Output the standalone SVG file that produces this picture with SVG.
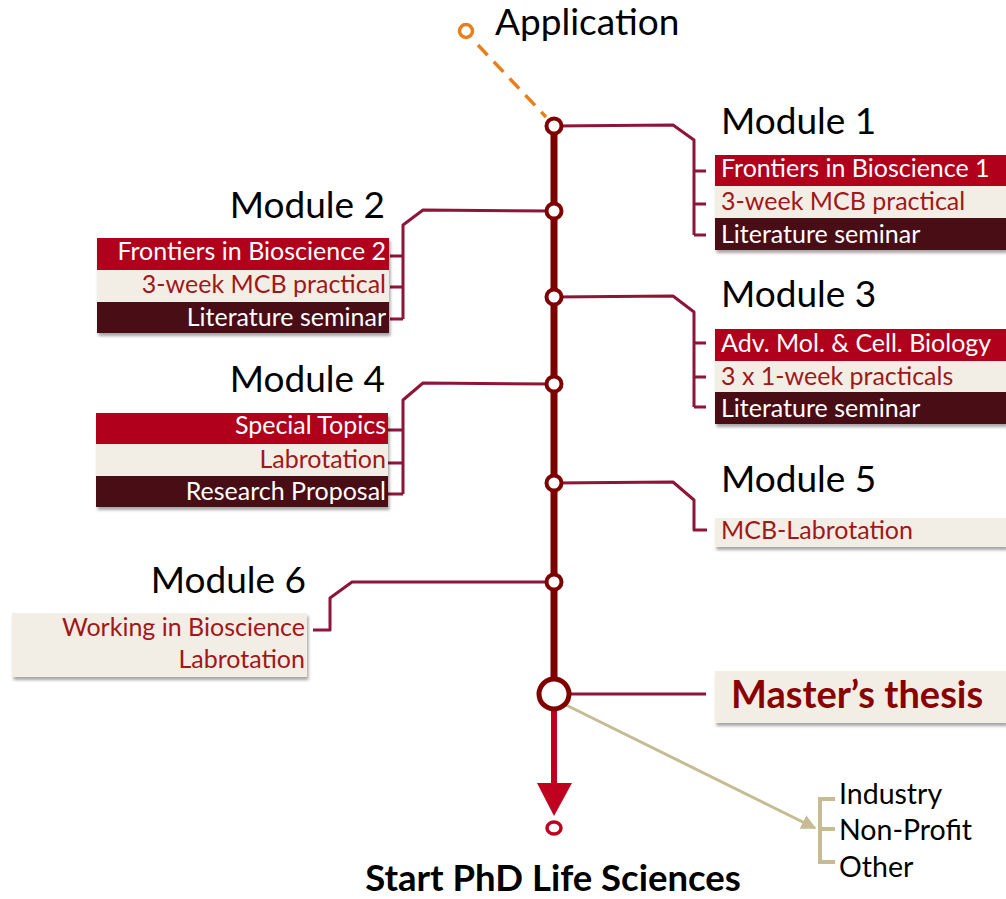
<svg xmlns="http://www.w3.org/2000/svg" width="1006" height="899" viewBox="0 0 1006 899">
<defs>
<filter id="sh" x="-5%" y="-20%" width="110%" height="150%">
<feDropShadow dx="1.5" dy="3" stdDeviation="1.8" flood-color="#000" flood-opacity="0.35"/>
</filter>
<marker id="beigeArrow" viewBox="0 0 10 10" refX="9" refY="5" markerWidth="5" markerHeight="5" orient="auto" markerUnits="strokeWidth">
<path d="M0,0 L10,5 L0,10 z" fill="#C6BB93"/>
</marker>
</defs>
<style>
text{font-family:Lato,"Open Sans","Liberation Sans",sans-serif}
.mod{font-size:37px;fill:#000}
.item{font-size:25px}
.w{fill:#fff}
.dr{fill:#A01818}
.red{fill:#B1001F}
.cream{fill:#F2EDE5}
.dark{fill:#4A0A12}
.conn{fill:none;stroke:#8C1538;stroke-width:3;stroke-linejoin:round}
.st{fill:#fff;stroke:#7E0000;stroke-width:4}
.out{font-size:28.5px;fill:#000}
</style>
<g id="connectors">
<path class="conn" d="M554,126 L673,125 L694,140 L694,235 M694,171 L706,171 M694,204 L706,204 M694,235 L706,235"/>
<path class="conn" d="M554,211 L423,210 L403,225 L403,319 M390,256 L403,256 M390,287 L403,287 M390,319 L403,319"/>
<path class="conn" d="M554,297 L673,296 L694,312 L694,407 M694,343 L706,343 M694,377 L706,377 M694,407 L706,407"/>
<path class="conn" d="M554,384 L423,383 L403,400 L403,494 M388,430 L403,430 M388,463 L403,463 M388,494 L403,494"/>
<path class="conn" d="M554,483 L673,482 L694,500 L694,530 L707,530"/>
<path class="conn" d="M554,582 L352,582 L330,598 L330,630 L313,630"/>
<path class="conn" d="M554,694 L706,694"/>
<line x1="566" y1="705" x2="815" y2="828" stroke="#C6BB93" stroke-width="3" marker-end="url(#beigeArrow)"/>
<path d="M835,799 L820,799 L820,862 L835,862 M820,829 L835,829" fill="none" stroke="#C6BB93" stroke-width="4"/>
<line x1="478" y1="45" x2="546" y2="117" stroke="#E8801A" stroke-width="3.5" stroke-dasharray="14,9"/>
<line x1="554" y1="126" x2="554" y2="694" stroke="#7E0000" stroke-width="7"/>
<line x1="554" y1="709" x2="554" y2="790" stroke="#C0001F" stroke-width="6"/>
<path d="M537,783 L572,783 L554,816 z" fill="#C0001F"/>
</g>
<g id="application">
<circle cx="466" cy="31" r="6.5" fill="#fff" stroke="#E8801A" stroke-width="3.5"/>
<text x="495" y="35" class="mod" font-size="38">Application</text>
</g>
<g id="module1">
<circle class="st" cx="554" cy="126" r="7.5"/>
<text x="721" y="134" class="mod">Module 1</text>
<g filter="url(#sh)">
<rect class="red" x="715" y="155" width="291" height="31"/>
<rect class="cream" x="715" y="186" width="291" height="32"/>
<rect class="dark" x="715" y="218" width="291" height="32"/>
</g>
<text x="721" y="177" class="item w">Frontiers in Bioscience 1</text>
<text x="721" y="210" class="item dr">3-week MCB practical</text>
<text x="721" y="243" class="item w">Literature seminar</text>
</g>
<g id="module2">
<circle class="st" cx="554" cy="211" r="7.5"/>
<text x="385" y="218" class="mod" text-anchor="end">Module 2</text>
<g filter="url(#sh)">
<rect class="red" x="97" y="238" width="292" height="32"/>
<rect class="cream" x="97" y="270" width="292" height="32"/>
<rect class="dark" x="97" y="302" width="292" height="31"/>
</g>
<g text-anchor="end">
<text x="386" y="260" class="item w">Frontiers in Bioscience 2</text>
<text x="386" y="293" class="item dr">3-week MCB practical</text>
<text x="386" y="326" class="item w">Literature seminar</text>
</g>
</g>
<g id="module3">
<circle class="st" cx="554" cy="297" r="7.5"/>
<text x="721" y="307" class="mod">Module 3</text>
<g filter="url(#sh)">
<rect class="red" x="715" y="329" width="291" height="32"/>
<rect class="cream" x="715" y="361" width="291" height="31"/>
<rect class="dark" x="715" y="392" width="291" height="32"/>
</g>
<text x="721" y="352" class="item w">Adv. Mol. &amp; Cell. Biology</text>
<text x="721" y="385" class="item dr">3 x 1-week practicals</text>
<text x="721" y="417" class="item w">Literature seminar</text>
</g>
<g id="module4">
<circle class="st" cx="554" cy="384" r="7.5"/>
<text x="385" y="392" class="mod" text-anchor="end">Module 4</text>
<g filter="url(#sh)">
<rect class="red" x="96" y="413" width="292" height="31"/>
<rect class="cream" x="96" y="444" width="292" height="32"/>
<rect class="dark" x="96" y="476" width="292" height="31"/>
</g>
<g text-anchor="end">
<text x="386" y="434" class="item w">Special Topics</text>
<text x="386" y="468" class="item dr">Labrotation</text>
<text x="386" y="500" class="item w">Research Proposal</text>
</g>
</g>
<g id="module5">
<circle class="st" cx="554" cy="483" r="7.5"/>
<text x="721" y="492" class="mod">Module 5</text>
<rect class="cream" x="715" y="518" width="291" height="29" filter="url(#sh)"/>
<text x="721" y="539" class="item dr">MCB-Labrotation</text>
</g>
<g id="module6">
<circle class="st" cx="554" cy="582" r="7.5"/>
<text x="306" y="593" class="mod" text-anchor="end">Module 6</text>
<rect class="cream" x="12" y="613" width="295" height="64" filter="url(#sh)"/>
<g text-anchor="end">
<text x="305" y="636" class="item dr">Working in Bioscience</text>
<text x="305" y="668" class="item dr">Labrotation</text>
</g>
</g>
<g id="thesis">
<circle cx="554" cy="694" r="15" fill="#fff" stroke="#7E0000" stroke-width="5"/>
<rect class="cream" x="715" y="671" width="291" height="52" filter="url(#sh)"/>
<text x="731" y="708" font-size="38" font-weight="bold" fill="#8A0000">Master’s thesis</text>
</g>
<g id="outcomes">
<text x="839" y="804" class="out">Industry</text>
<text x="839" y="840" class="out">Non-Profit</text>
<text x="839" y="877" class="out">Other</text>
</g>
<g id="phd">
<ellipse cx="554" cy="828" rx="7" ry="6" fill="#fff" stroke="#C0001F" stroke-width="3.5"/>
<text x="553" y="891" font-size="36.5" font-weight="bold" text-anchor="middle" fill="#000">Start PhD Life Sciences</text>
</g>
</svg>
